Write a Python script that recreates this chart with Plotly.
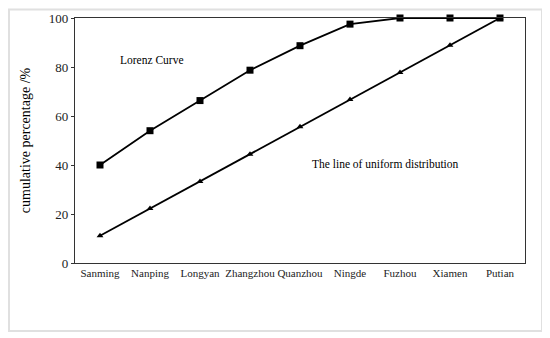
import plotly.graph_objects as go

cities = ["Sanming", "Nanping", "Longyan", "Zhangzhou", "Quanzhou", "Ningde", "Fuzhou", "Xiamen", "Putian"]
lorenz = [40.0, 54.0, 66.3, 78.7, 88.7, 97.5, 100.0, 100.0, 100.0]
uniform = [11.1, 22.2, 33.3, 44.4, 55.6, 66.7, 77.8, 88.9, 100.0]
y_ticks = [0, 20, 40, 60, 80, 100]

font_family = "Liberation Serif, Times New Roman, serif"

# plot area in figure pixels (the page adds an 8px body margin)
L, R, T, B = 67, 517, 10, 255
W, H = R - L, B - T

fig = go.Figure()
fig.add_trace(go.Scatter(
    x=cities, y=lorenz, mode="lines+markers",
    line=dict(color="black", width=1.8),
    marker=dict(symbol="square", size=7, color="black"),
    cliponaxis=False, showlegend=False))
fig.add_trace(go.Scatter(
    x=cities, y=uniform, mode="lines+markers",
    line=dict(color="black", width=1.8),
    marker=dict(symbol="triangle-up", size=6, color="black"),
    cliponaxis=False, showlegend=False))

fig.update_layout(
    width=550, height=338,
    margin=dict(l=L, r=550 - R, t=T, b=338 - B),
    plot_bgcolor="white", paper_bgcolor="white",
    font=dict(family=font_family, color="black"),
    xaxis=dict(range=[-0.5, 8.5], showgrid=False, zeroline=False, automargin=False,
               showline=True, linecolor="#333", linewidth=1.2, mirror=True,
               ticks="", tickangle=0, tickfont=dict(size=11, family=font_family, color="#222")),
    yaxis=dict(range=[0, 100], tickvals=y_ticks, showgrid=False, zeroline=False, automargin=False,
               showline=True, linecolor="#333", linewidth=1.2, mirror=True,
               ticks="outside", ticklen=3, tickcolor="#333",
               tickfont=dict(size=13, family=font_family, color="#222"),
               title=dict(text="cumulative percentage /%", font=dict(size=14, family=font_family), standoff=14)),
    annotations=[
        dict(x=1.04, y=83, xref="x", yref="y", text="Lorenz Curve", showarrow=False,
             font=dict(size=11.5, family=font_family)),
        dict(x=5.71, y=40.5, xref="x", yref="y", text="The line of uniform distribution", showarrow=False,
             font=dict(size=11.5, family=font_family)),
    ],
    shapes=[
        dict(type="rect", xref="paper", yref="paper",
             x0=(1 - L) / W, x1=(534 - L) / W,
             y0=(B - 323) / H, y1=(B - 1.5) / H,
             line=dict(color="#e0e0e0", width=2), fillcolor="rgba(0,0,0,0)", layer="below"),
    ],
)

fig.write_html("out.html")
